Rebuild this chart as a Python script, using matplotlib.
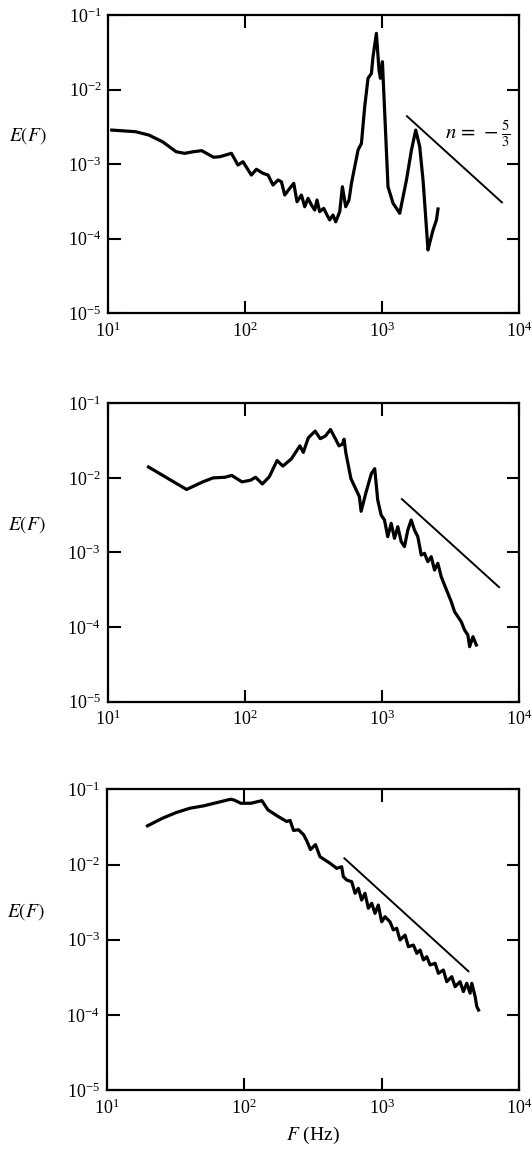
import numpy as np
import matplotlib
matplotlib.use('Agg')
import matplotlib.pyplot as plt

plt.rcParams['font.family'] = ['Liberation Serif', 'DejaVu Serif']
plt.rcParams['mathtext.fontset'] = 'stix'

# panel 1
f1 = [10.6, 15.8, 19.8, 24.9, 31.3, 36.1, 41.7, 48.1, 58.7,
      65.2, 79.3, 88.5, 96.3, 110.9, 120.7, 134.9, 146.8, 159.6, 173.7, 183.8, 194.4,
      211.5, 226.2, 239.0, 257.4, 272.1, 287.7, 304.7, 322.0, 334.4, 349.8, 374.3,
      396.0, 414.2, 437.7, 458.4, 490.3, 512.6, 541.9, 573,
      597, 631, 667, 706, 746, 789, 835, 858, 908, 949, 972, 1005, 1045, 1104, 1202,
      1345, 1506, 1638, 1760, 1882,
      1990, 2046, 2163, 2227, 2355, 2494, 2560]
e1 = [2.87e-3, 2.73e-3, 2.46e-3, 2.0e-3, 1.47e-3, 1.40e-3, 1.47e-3, 1.52e-3, 1.24e-3,
      1.26e-3, 1.40e-3, 9.75e-4, 1.08e-3, 7.16e-4, 8.55e-4, 7.55e-4, 7.16e-4, 5.26e-4,
      6.14e-4, 5.82e-4, 3.86e-4, 4.75e-4, 5.55e-4, 3.14e-4, 3.86e-4, 2.69e-4, 3.49e-4,
      2.84e-4, 2.43e-4, 3.31e-4, 2.31e-4, 2.56e-4, 2.08e-4, 1.79e-4, 2.08e-4, 1.69e-4,
      2.31e-4, 4.99e-4, 2.69e-4, 3.31e-4,
      5.55e-4, 9.25e-4, 1.55e-3, 1.90e-3, 5.90e-3, 1.42e-2, 1.65e-2, 2.76e-2, 5.69e-2,
      1.83e-2, 1.42e-2, 2.37e-2, 4.81e-3, 4.99e-4, 2.99e-4, 2.20e-4, 6.14e-4, 1.55e-3,
      2.87e-3, 1.72e-3,
      6.14e-4, 3.02e-4, 7.08e-5, 8.8e-5, 1.31e-4, 1.79e-4, 2.51e-4]
ref1 = ([1520, 7500], 4.4e-3)

# panel 2
f2 = [19.9, 37.7, 49.5, 58.8, 71.8, 80.5, 95.5, 110.2, 120.0, 134.5, 150.9, 172.2,
      189.8, 218.9, 252.6, 267.5, 291.3, 326.3, 355.6, 387.5, 422.2, 460.2, 486.9,
      515.3, 530.4, 545.7, 594.7, 685.6, 706.0, 769.3, 838.3, 887.2,
      933, 988, 1045, 1104, 1170, 1236, 1307, 1383, 1462, 1546, 1636, 1729, 1829,
      1937, 2047, 2164, 2291, 2421, 2559, 2710, 2864, 3028, 3206, 3388, 3582, 3793,
      4008, 4237, 4364, 4614, 4886]
e2 = [1.40e-2, 7.0e-3, 8.85e-3, 1.0e-2, 1.02e-2, 1.08e-2, 8.85e-3, 9.3e-3, 1.02e-2,
      8.3e-3, 1.03e-2, 1.71e-2, 1.44e-2, 1.80e-2, 2.69e-2, 2.20e-2, 3.46e-2, 4.24e-2,
      3.36e-2, 3.64e-2, 4.46e-2, 3.30e-2, 2.69e-2, 2.83e-2, 3.30e-2, 2.20e-2, 9.8e-3,
      5.6e-3, 3.57e-3, 6.55e-3, 1.14e-2, 1.33e-2,
      5.06e-3, 3.18e-3, 2.73e-3, 1.63e-3, 2.46e-3, 1.55e-3, 2.22e-3, 1.40e-3, 1.20e-3,
      2.0e-3, 2.73e-3, 2.0e-3, 1.63e-3, 9.25e-4, 9.75e-4, 7.53e-4, 8.79e-4, 5.82e-4,
      7.16e-4, 4.74e-4, 3.66e-4, 2.84e-4, 2.19e-4, 1.61e-4, 1.38e-4, 1.18e-4, 9.14e-5,
      7.83e-5, 5.46e-5, 7.43e-5, 5.75e-5]
ref2 = ([1400, 7150], 5.2e-3)

# panel 3
f3 = [19.8, 25.5, 32.1, 40.3, 50.6, 63.4, 79.6, 84.3, 94.4, 112, 125.6, 134.4, 148.8,
      176.6, 203.5, 215.5, 228.2, 248.4, 270.4, 286.3, 303.0, 330.0,
      355.6, 420.4, 470.3, 511.3, 525.6, 556.3, 605.1, 639.9, 676.1, 714.5, 755.8,
      798.9, 845.4, 893.4, 944.2, 999.5, 1056, 1149, 1214, 1285, 1358, 1478, 1563,
      1700, 1799, 1901, 2010, 2125, 2248, 2445, 2584, 2808, 2970, 3231, 3415, 3713,
      3926, 4154, 4392, 4521, 4779, 4913, 5058]
e3 = [3.27e-2, 4.14e-2, 4.92e-2, 5.61e-2, 6.03e-2, 6.67e-2, 7.38e-2, 7.22e-2, 6.53e-2,
      6.53e-2, 6.87e-2, 7.08e-2, 5.33e-2, 4.35e-2, 3.74e-2, 3.86e-2, 2.84e-2, 2.90e-2,
      2.49e-2, 2.03e-2, 1.58e-2, 1.84e-2,
      1.27e-2, 1.04e-2, 8.90e-3, 9.35e-3, 6.89e-3, 6.22e-3, 5.90e-3, 4.14e-3, 4.83e-3,
      3.37e-3, 4.14e-3, 2.62e-3, 3.05e-3, 2.24e-3, 2.89e-3, 1.73e-3, 2.02e-3, 1.73e-3,
      1.35e-3, 1.42e-3, 9.91e-4, 1.15e-3, 8.07e-4, 8.49e-4, 6.59e-4, 7.29e-4, 5.37e-4,
      5.94e-4, 4.61e-4, 4.85e-4, 3.57e-4, 3.95e-4, 2.76e-4, 3.22e-4, 2.37e-4, 2.76e-4,
      2.04e-4, 2.63e-4, 1.94e-4, 2.63e-4, 1.75e-4, 1.29e-4, 1.16e-4]
ref3 = ([535, 4270], 1.21e-2)

slope = -5 / 3

fig = plt.figure(figsize=(5.32, 11.52), dpi=100)
boxes = [[0.2036, 0.7280, 0.7720, 0.2589],
         [0.2021, 0.3909, 0.7735, 0.2590],
         [0.2006, 0.0538, 0.7754, 0.2610]]
data = [(f1, e1, ref1), (f2, e2, ref2), (f3, e3, ref3)]

for i, (box, (f, e, ref)) in enumerate(zip(boxes, data)):
    ax = fig.add_axes(box)
    ax.plot(f, e, color='black', lw=2.3, solid_joinstyle='round')
    rf = np.array(ref[0], dtype=float)
    ax.plot(rf, ref[1] * (rf / rf[0]) ** slope, color='black', lw=1.4)
    ax.set_xscale('log')
    ax.set_yscale('log')
    ax.set_xlim(10, 1e4)
    ax.set_ylim(1e-5, 1e-1)
    ax.set_xticks([1e1, 1e2, 1e3, 1e4])
    ax.set_yticks([1e-5, 1e-4, 1e-3, 1e-2, 1e-1])
    ax.minorticks_off()
    ax.tick_params(which='major', direction='in', length=9, width=1.5,
                   top=True, right=True, labelsize=13, pad=5)
    ax.tick_params(axis='x', pad=6)
    for s in ax.spines.values():
        s.set_linewidth(1.6)
    ax.text(-0.195, 0.595, '$E(F)$', transform=ax.transAxes, fontsize=14,
            ha='center', va='center')
    if i == 0:
        ax.text(2900, 2.6e-3, r'$n\,=\,-\frac{5}{3}$', fontsize=15, ha='left', va='center')
    if i == 2:
        ax.set_xlabel('$F$ (Hz)', fontsize=14, labelpad=5)

fig.savefig('out.png', dpi=100)
